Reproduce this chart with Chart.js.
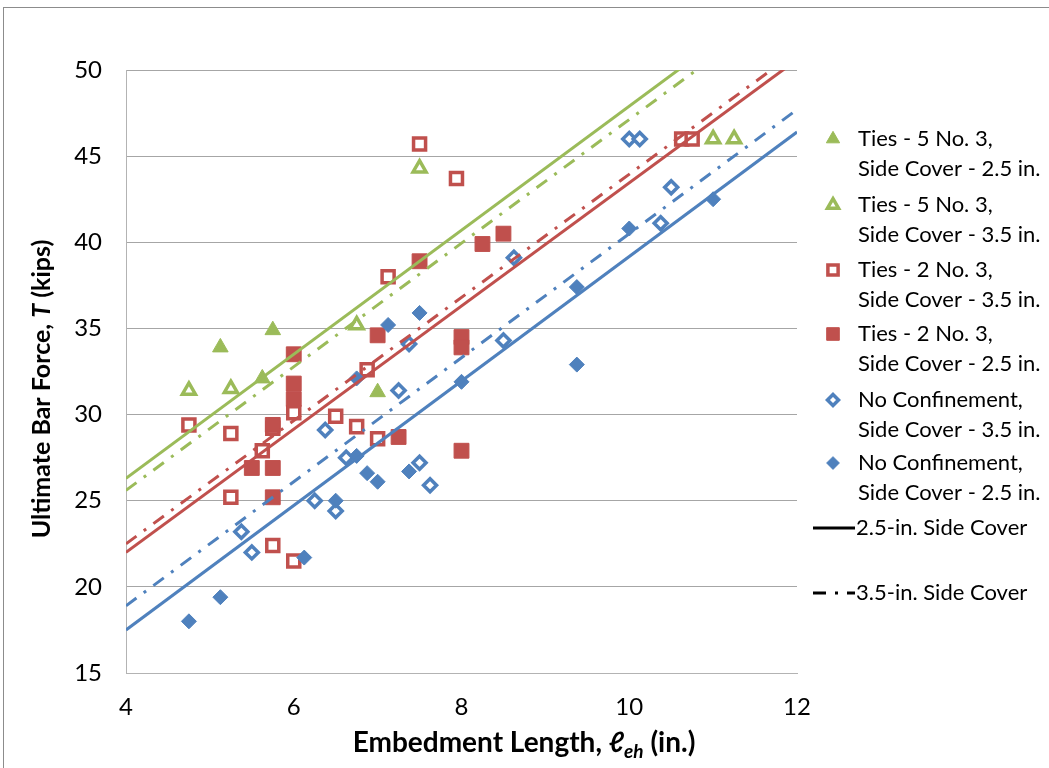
<!DOCTYPE html>
<html>
<head>
<meta charset="utf-8">
<script src="https://cdn.jsdelivr.net/npm/chart.js@4.4.0/dist/chart.umd.min.js"></script>
<style>
    body { margin: 0; background: #fff; }
    #wrap { position: relative; width: 1049px; height: 768px; }
</style>
</head>
<body>
<div id="wrap"><canvas id="chart"></canvas></div>
<script>
// Ties - 5 No. 3, Side Cover - 2.5 in.
const ties5Sc25X = [5.125, 5.625, 5.75, 7.0];
const ties5Sc25Y = [33.9, 32.1, 34.9, 31.3];
// Ties - 5 No. 3, Side Cover - 3.5 in.
const ties5Sc35X = [4.75, 5.25, 6.75, 7.5, 11.0, 11.25];
const ties5Sc35Y = [31.4, 31.5, 35.2, 44.3, 46.0, 46.0];
// Ties - 2 No. 3, Side Cover - 3.5 in.
const ties2Sc35X = [4.75, 5.25, 5.25, 5.625, 5.75, 5.75, 6.0, 6.0, 6.5, 6.75, 6.875, 7.0, 7.125, 7.5, 7.94, 10.625, 10.75];
const ties2Sc35Y = [29.4, 28.9, 25.2, 27.9, 22.4, 29.2, 30.1, 21.5, 29.9, 29.3, 32.6, 28.6, 38.0, 45.7, 43.7, 46.0, 46.0];
// Ties - 2 No. 3, Side Cover - 2.5 in.
const ties2Sc25X = [6.0, 6.0, 6.0, 5.75, 5.5, 5.75, 5.75, 7.5, 8.25, 8.5, 7.0, 8.0, 8.0, 7.25, 8.0];
const ties2Sc25Y = [33.5, 31.8, 30.9, 29.4, 26.9, 26.9, 25.2, 38.9, 39.9, 40.5, 34.6, 34.5, 33.9, 28.7, 27.9];
// No Confinement, Side Cover - 3.5 in.
const noConfSc35X = [5.375, 5.5, 6.25, 6.375, 6.5, 6.625, 7.25, 7.375, 7.5, 7.625, 8.5, 8.625, 10.0, 10.125, 10.375, 10.5];
const noConfSc35Y = [23.2, 22.0, 25.0, 29.1, 24.4, 27.5, 31.4, 34.1, 27.2, 25.9, 34.3, 39.1, 46.0, 46.0, 41.1, 43.2];
// No Confinement, Side Cover - 2.5 in.
const noConfSc25X = [4.75, 5.125, 6.125, 6.5, 6.75, 6.75, 6.875, 7.0, 7.125, 7.375, 7.5, 8.0, 9.375, 9.375, 10.0, 11.0];
const noConfSc25Y = [18.0, 19.4, 21.7, 25.0, 32.1, 27.6, 26.6, 26.1, 35.2, 26.7, 35.9, 31.9, 37.4, 32.9, 40.8, 42.5];

// trend lines (end values at x = 4 and x = 12)
const trendX = [4, 12];
const greenSolidY = [26.3, 55.1];
const greenDashY = [25.6, 54.3];
const redSolidY = [22.0, 50.6];
const redDashY = [22.5, 51.1];
const blueSolidY = [17.5, 46.4];
const blueDashY = [18.9, 47.7];

const xTicks = [4, 6, 8, 10, 12];
const yTicks = [15, 20, 25, 30, 35, 40, 45, 50];

const legendLabels = [
    ["Ties - 5 No. 3,", "Side Cover - 2.5 in."],
    ["Ties - 5 No. 3,", "Side Cover - 3.5 in."],
    ["Ties - 2 No. 3,", "Side Cover - 3.5 in."],
    ["Ties - 2 No. 3,", "Side Cover - 2.5 in."],
    ["No Confinement,", "Side Cover - 3.5 in."],
    ["No Confinement,", "Side Cover - 2.5 in."]
];
const lineLabels = ["2.5-in. Side Cover", "3.5-in. Side Cover"];

const GREEN = '#9BBB59';
const RED = '#C0504D';
const BLUE = '#4F81BD';
const DASHDOT = [13, 9, 3, 9];
const FONT = 'Lato, "Open Sans", sans-serif';

function pts(xs, ys) {
    return xs.map((x, i) => ({ x: x, y: ys[i] }));
}

function markerSet(label, xs, ys, style, color, filled, radius) {
    return {
        label: label,
        data: pts(xs, ys),
        pointStyle: style,
        pointRadius: radius,
        pointBackgroundColor: filled ? color : '#ffffff',
        pointBorderColor: color,
        pointBorderWidth: filled ? 1 : 3.5,
        showLine: false
    };
}

function trendSet(label, ys, color, dash) {
    return {
        type: 'line',
        label: label,
        data: pts(trendX, ys),
        borderColor: color,
        borderWidth: 3,
        borderDash: dash,
        pointRadius: 0,
        fill: false
    };
}

const datasets = [
    markerSet('t5sc25', ties5Sc25X, ties5Sc25Y, 'triangle', GREEN, true, 9),
    markerSet('t5sc35', ties5Sc35X, ties5Sc35Y, 'triangle', GREEN, false, 7.5),
    markerSet('t2sc35', ties2Sc35X, ties2Sc35Y, 'rect', RED, false, 8.5),
    markerSet('t2sc25', ties2Sc25X, ties2Sc25Y, 'rect', RED, true, 10.5),
    markerSet('ncsc35', noConfSc35X, noConfSc35Y, 'rectRot', BLUE, false, 6.5),
    markerSet('ncsc25', noConfSc25X, noConfSc25Y, 'rectRot', BLUE, true, 7.5),
    trendSet('gs', greenSolidY, GREEN, []),
    trendSet('gd', greenDashY, GREEN, DASHDOT),
    trendSet('rs', redSolidY, RED, []),
    trendSet('rd', redDashY, RED, DASHDOT),
    trendSet('bs', blueSolidY, BLUE, []),
    trendSet('bd', blueDashY, BLUE, DASHDOT)
];
// later series on top, like the spreadsheet
datasets.forEach((d, i) => { d.order = datasets.length - i; });

// pieces of text with mixed fonts
function drawPieces(ctx, pieces, cx, baseline) {
    let total = 0;
    pieces.forEach(p => { ctx.font = p.f; total += ctx.measureText(p.t).width; });
    let x = cx - total / 2;
    pieces.forEach(p => {
        ctx.font = p.f;
        ctx.fillText(p.t, x, baseline + (p.dy || 0));
        x += ctx.measureText(p.t).width;
    });
}

const extras = {
    id: 'extras',
    beforeDraw(chart) {
        const ctx = chart.ctx;
        ctx.save();
        ctx.strokeStyle = '#8c8c8c';
        ctx.lineWidth = 1;
        ctx.strokeRect(3.5, 7.5, 1200, 900);
        ctx.restore();
    },
    afterDraw(chart) {
        const ctx = chart.ctx;
        ctx.save();
        ctx.fillStyle = '#000';
        ctx.textAlign = 'left';
        ctx.textBaseline = 'alphabetic';

        // x axis title
        drawPieces(ctx, [
            { t: 'Embedment Length, ', f: 'bold 28px ' + FONT },
            { t: 'ℓ', f: 'italic bold 28px ' + FONT },
            { t: 'eh', f: 'italic bold 19px ' + FONT, dy: 6 },
            { t: ' (in.)', f: 'bold 28px ' + FONT }
        ], 524, 752);

        // y axis title
        ctx.save();
        ctx.translate(50, 389);
        ctx.rotate(-Math.PI / 2);
        drawPieces(ctx, [
            { t: 'Ultimate Bar Force, ', f: 'bold 25px ' + FONT },
            { t: 'T', f: 'italic bold 25px ' + FONT },
            { t: ' (kips)', f: 'bold 25px ' + FONT }
        ], 0, 0);
        ctx.restore();

        // legend
        const mx = 833, tx = 858;
        const rowY = [139, 205, 270, 334, 400, 463];
        ctx.textBaseline = 'middle';
        ctx.font = '22px ' + FONT;
        datasets.slice(0, 6).forEach((d, i) => {
            const y = rowY[i];
            ctx.fillStyle = d.pointBackgroundColor;
            ctx.strokeStyle = d.pointBorderColor;
            ctx.lineWidth = d.pointBorderWidth;
            Chart.helpers.drawPoint(ctx, {
                pointStyle: d.pointStyle,
                radius: d.pointRadius * 0.85,
                rotation: 0,
                borderWidth: d.pointBorderWidth
            }, mx, y);
            ctx.fillStyle = '#000';
            ctx.fillText(legendLabels[i][0], tx, y);
            ctx.fillText(legendLabels[i][1], tx, y + 30);
        });
        const lineY = [528, 593];
        lineLabels.forEach((lab, i) => {
            ctx.strokeStyle = '#000';
            ctx.lineWidth = 3;
            ctx.setLineDash(i === 0 ? [] : DASHDOT);
            ctx.beginPath();
            ctx.moveTo(813, lineY[i]);
            ctx.lineTo(855, lineY[i]);
            ctx.stroke();
            ctx.setLineDash([]);
            ctx.fillText(lab, 856, lineY[i]);
        });
        ctx.restore();
    }
};

new Chart(document.getElementById('chart'), {
    type: 'scatter',
    data: { datasets: datasets },
    options: {
        responsive: true,
        maintainAspectRatio: false,
        animation: false,
        layout: { padding: { top: 70, right: 252, bottom: 0, left: 0 } },
        plugins: {
            legend: { display: false },
            tooltip: { enabled: false }
        },
        scales: {
            x: {
                type: 'linear',
                min: 4,
                max: 12,
                afterFit: s => { s.height = 95; },
                afterBuildTicks: s => { s.ticks = xTicks.map(v => ({ value: v })); },
                grid: { display: false, drawTicks: false },
                border: { display: true, color: '#b3b3b3', width: 1 },
                ticks: { padding: 20, color: '#000', font: { family: FONT, size: 24 } }
            },
            y: {
                type: 'linear',
                min: 15,
                max: 50,
                afterFit: s => { s.width = 126; },
                afterBuildTicks: s => { s.ticks = yTicks.map(v => ({ value: v })); },
                grid: { color: '#a6a6a6', lineWidth: 1, drawTicks: false },
                border: { display: true, color: '#b3b3b3', width: 1 },
                ticks: { padding: 24, color: '#000', font: { family: FONT, size: 24 } }
            }
        }
    },
    plugins: [extras]
});
</script>
</body>
</html>
